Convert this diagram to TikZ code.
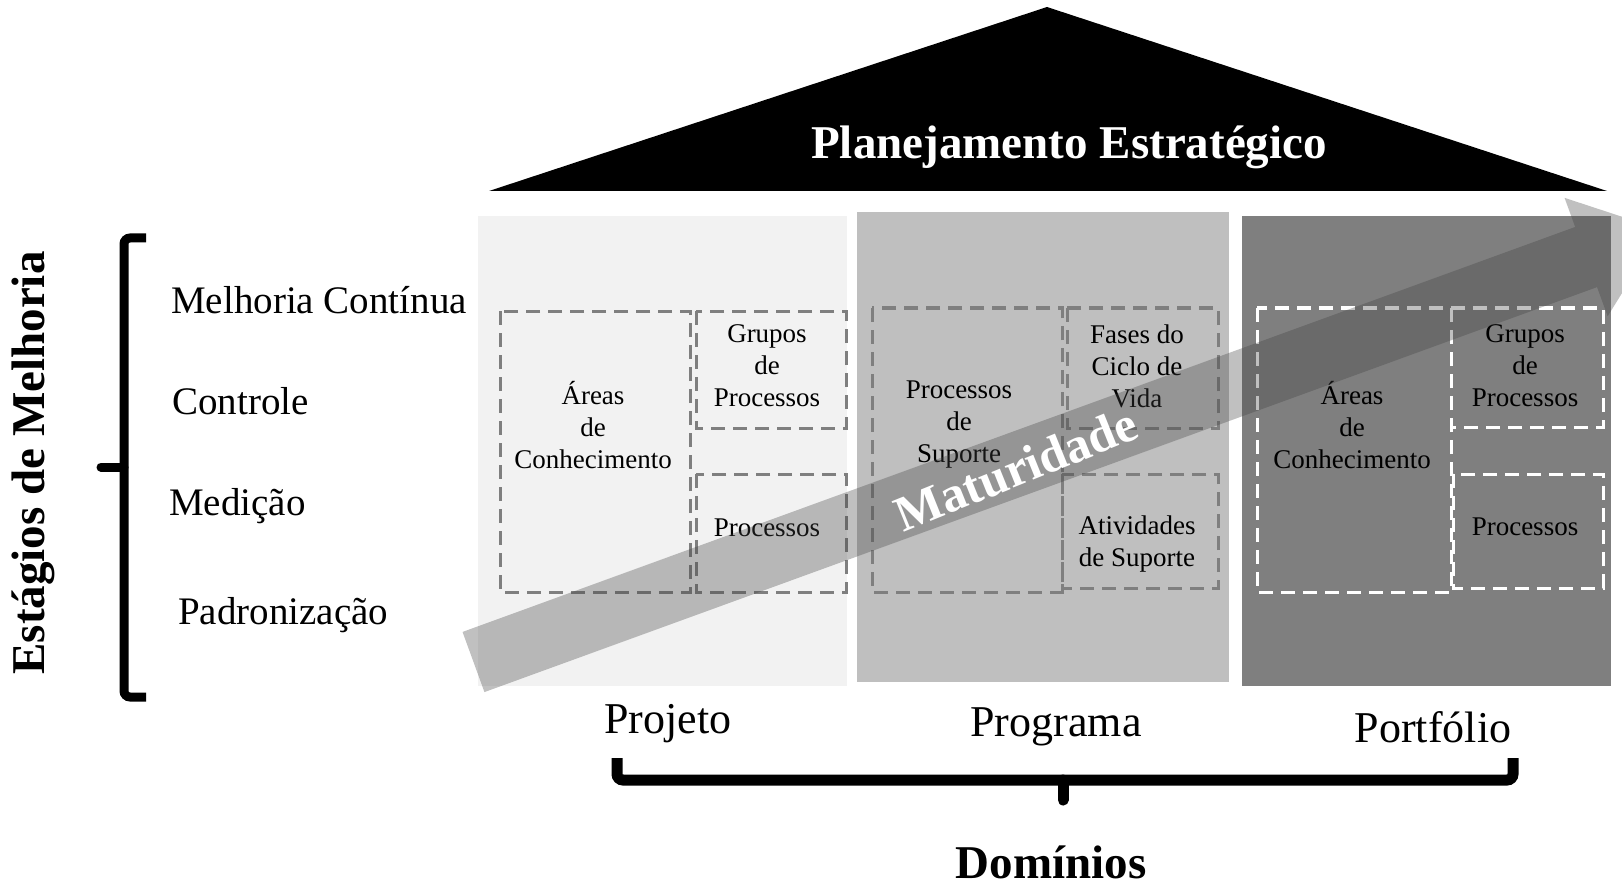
\documentclass[tikz,border=0pt]{standalone}
\usepackage{fontspec}
\setmainfont{Liberation Serif}
\definecolor{boxA}{HTML}{F2F2F2}
\definecolor{boxB}{HTML}{BFBFBF}
\definecolor{boxC}{HTML}{7F7F7F}
\definecolor{dashgray}{HTML}{7F7F7F}
\definecolor{arrowgray}{HTML}{404040}
\begin{document}
\begin{tikzpicture}[x=1pt,y=-1pt,
  inner/.style={align=center,font=\fontsize{27}{32}\selectfont,inner sep=0pt},
  dbox/.style={draw=dashgray,line width=3pt,dash pattern=on 14pt off 8pt},
  wbox/.style={draw=white,line width=3pt,dash pattern=on 14pt off 8pt},
  stage/.style={anchor=west,font=\fontsize{39}{44}\selectfont,inner sep=0pt},
  dom/.style={font=\fontsize{44}{50}\selectfont,inner sep=0pt},
  big/.style={font=\fontsize{47}{52}\selectfont\bfseries,inner sep=0pt},
  bracepath/.style={line width=9pt,rounded corners=6pt},
  bracetip/.style={line width=9pt,line cap=round}
]
\useasboundingbox (0,0) rectangle (1622,885);
\fill[white] (0,0) rectangle (1622,885);

% roof
\fill[black] (489,191) -- (1047,7) -- (1607,191) -- cycle;
\node[big,text=white] (plan) at (1069,147) {Planejamento Estratégico};

% domain boxes
\fill[boxA] (478,216) rectangle (847,686);
\fill[boxB] (857,212) rectangle (1229,682);
\fill[boxC] (1242,216) rectangle (1611,686);

% dashed boxes - Projeto
\draw[dbox] (500,311) rectangle (690,592);
\draw[dbox] (696,311) rectangle (846,428);
\draw[dbox] (696,474) rectangle (846,592);
% Programa
\draw[dbox] (872,308) rectangle (1062,592);
\draw[dbox] (1067,308) rectangle (1218,428);
\draw[dbox] (1062,474) rectangle (1218,588);
% Portfolio
\draw[wbox] (1257,308) rectangle (1451,592);
\draw[wbox] (1451,308) rectangle (1603,427);
\draw[wbox] (1453,474) rectangle (1603,588);

% inner texts
\node[inner] (areas1) at (593,425) {Áreas\\de\\Conhecimento};
\node[inner] (grupos1) at (767,366) {Grupos\\de\\Processos};
\node[inner] (proc1) at (767,528) {Processos};
\node[inner] (procsup) at (959,425) {Processos\\de\\Suporte};
\node[inner] (fases) at (1137,366) {Fases do\\Ciclo de\\Vida};
\node[inner] (ativ) at (1137,544) {Atividades\\de Suporte};
\node[inner] (areas3) at (1352,425) {Áreas\\de\\Conhecimento};
\node[inner] (grupos3) at (1525,366) {Grupos\\de\\Processos};
\node[inner] (proc3) at (1525,527) {Processos};

% maturity arrow
\begin{scope}[shift={(473.5,662)},rotate=20]
\fill[arrowgray,opacity=0.33] (0,-32) -- (1184,-32) -- (1184,-63) -- (1264,0) -- (1184,63) -- (1184,32) -- (0,32) -- cycle;
\end{scope}
\node[rotate=22,text=white,font=\fontsize{50}{52}\selectfont\bfseries,inner sep=0pt] (mat) at (1016,469) {Maturidade};

% stages
\node[big,rotate=90] (est) at (33,463) {Estágios de Melhoria};
\draw[bracepath] (146,238) -- (124,238) -- (124,697) -- (146,697);
\draw[bracetip] (124,467) -- (101,467);
\node[stage] (s1) at (171,300) {Melhoria Contínua};
\node[stage] (s2) at (172,401) {Controle};
\node[stage] (s3) at (169,506) {Medição};
\node[stage] (s4) at (178,615) {Padronização};

% domains
\node[dom] (proj) at (668,724) {Projeto};
\node[dom] (prog) at (1056,727) {Programa};
\node[dom] (port) at (1433,727) {Portfólio};
\draw[bracepath,line width=11pt] (617,758) -- (617,780) -- (1513,780) -- (1513,758);
\draw[bracetip,line width=11pt] (1063,780) -- (1063,800);
\node[big] (dominios) at (1051,862) {Domínios};
\end{tikzpicture}
\end{document}
